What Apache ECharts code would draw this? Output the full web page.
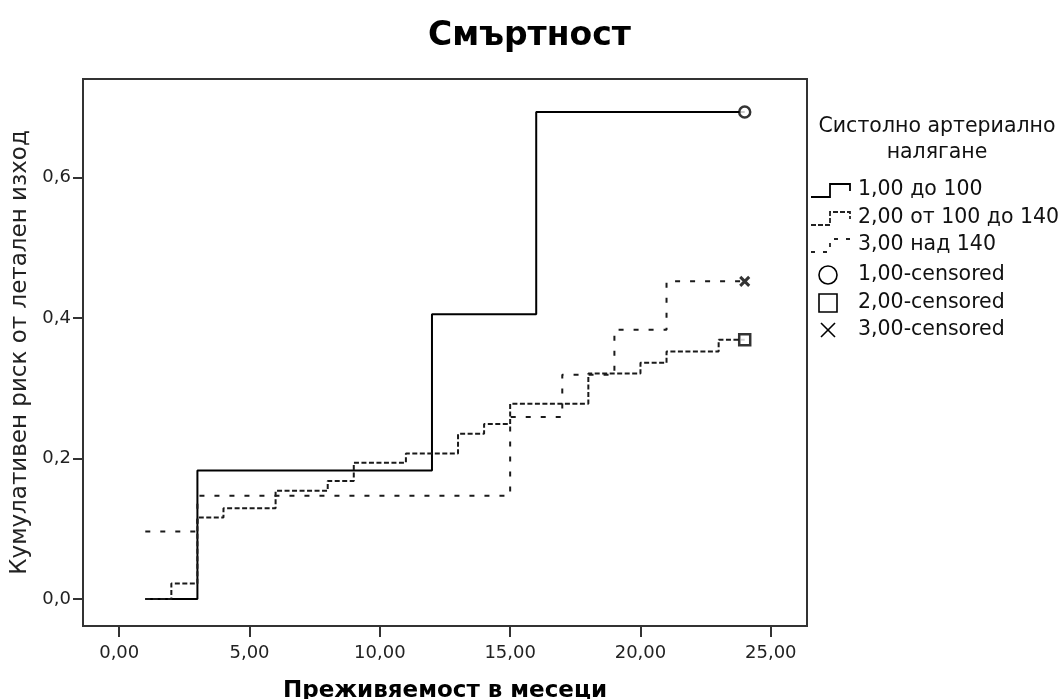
<!DOCTYPE html>
<html>
<head>
<meta charset="utf-8">
<script src="https://cdn.jsdelivr.net/npm/echarts@6/dist/echarts.min.js"></script>
<style>html,body{margin:0;padding:0;background:#fff;}#c{width:1064px;height:699px;}</style>
</head>
<body>
<div id="c"></div>
<script>
// ---- data ----
var titleText = 'Смъртност';
var xAxisName = 'Преживяемост в месеци';
var yAxisName = 'Кумулативен риск от летален изход';
var legendTitle = ['Систолно артериално', 'налягане'];
var groupNames = ['1,00 до 100', '2,00 от 100 до 140', '3,00 над 140'];
var censoredNames = ['1,00-censored', '2,00-censored', '3,00-censored'];

var xTicks = [0, 5, 10, 15, 20, 25];
var yTicks = [0, 0.2, 0.4, 0.6];

// step points: [month, cumulative risk]
var g1X = [1, 3, 12, 16, 24];
var g1Y = [0, 0.183, 0.405, 0.693, 0.693];

var g2X = [1, 2, 3, 4, 6, 8, 9, 11, 13, 14, 15, 18, 20, 21, 23, 24];
var g2Y = [0, 0.022, 0.116, 0.129, 0.154, 0.168, 0.194, 0.207, 0.235, 0.249, 0.278, 0.321, 0.336, 0.352, 0.369, 0.369];

var g3X = [1, 3, 15, 17, 19, 21, 24];
var g3Y = [0.096, 0.147, 0.259, 0.319, 0.383, 0.452, 0.452];

var censX = [24, 24, 24];
var censY = [0.693, 0.369, 0.452];

function zip(xs, ys) { return xs.map(function (x, i) { return [x, ys[i]]; }); }
function fmt(v, d) { return v.toFixed(d).replace('.', ','); }

var FONT = 'DejaVu Sans';
var INK = '#111';
var crossPath = 'path://M0,0 L10,10 M10,0 L0,10';

// ---- legend (graphic) ----
var lx = 811, tx = 858;
var rowY = [190, 218, 245, 275, 303, 330];
function stepIcon(y, dash, color) {
  return {
    type: 'polyline', silent: true,
    shape: { points: [[lx, y + 7], [lx + 19, y + 7], [lx + 19, y - 6], [lx + 39, y - 6], [lx + 39, y + 1]] },
    style: { stroke: color, fill: null, lineWidth: 1.8, lineDash: dash }
  };
}
function legText(x, y, t, align) {
  return { type: 'text', silent: true, x: x, y: y,
    style: { text: t, font: '20.5px "' + FONT + '"', fill: INK, align: align || 'left', verticalAlign: 'middle' } };
}
var legendGraphics = [
  legText(937, 127, legendTitle[0], 'center'),
  legText(937, 153, legendTitle[1], 'center'),
  stepIcon(rowY[0], null, '#000'),
  stepIcon(rowY[1], [5, 2], '#222'),
  stepIcon(rowY[2], [4, 8], '#222'),
  legText(tx, rowY[0], groupNames[0]),
  legText(tx, rowY[1], groupNames[1]),
  legText(tx, rowY[2], groupNames[2]),
  { type: 'circle', silent: true, shape: { cx: 828, cy: rowY[3], r: 9 }, style: { fill: null, stroke: '#000', lineWidth: 1.6 } },
  { type: 'rect', silent: true, shape: { x: 819, y: rowY[4] - 9, width: 18, height: 18 }, style: { fill: null, stroke: '#000', lineWidth: 1.6 } },
  { type: 'polyline', silent: true, shape: { points: [[821, rowY[5] - 7], [835, rowY[5] + 7]] }, style: { stroke: '#000', lineWidth: 1.6 } },
  { type: 'polyline', silent: true, shape: { points: [[835, rowY[5] - 7], [821, rowY[5] + 7]] }, style: { stroke: '#000', lineWidth: 1.6 } },
  legText(tx, rowY[3], censoredNames[0]),
  legText(tx, rowY[4], censoredNames[1]),
  legText(tx, rowY[5], censoredNames[2])
];

var chart = echarts.init(document.getElementById('c'), null, { renderer: 'canvas' });
chart.setOption({
  animation: false,
  backgroundColor: '#fff',
  textStyle: { fontFamily: FONT },
  title: {
    text: titleText, left: 423, top: 15,
    textStyle: { fontFamily: FONT, fontWeight: 'bold', fontSize: 33, color: '#000' }
  },
  grid: { left: 83, right: 257, top: 79, bottom: 73, outerBoundsMode: 'none', containLabel: false,
    show: true, borderColor: '#333', borderWidth: 2, backgroundColor: '#fff' },
  xAxis: {
    type: 'value', min: -1.39, max: 26.39,
    name: xAxisName, nameLocation: 'middle', nameGap: 54,
    nameTextStyle: { fontFamily: FONT, fontWeight: 'bold', fontSize: 23, color: '#000' },
    axisLine: { show: true, onZero: false, lineStyle: { color: '#333', width: 2 } },
    axisTick: { show: true, length: 11, customValues: xTicks, lineStyle: { color: '#333', width: 2 } },
    axisLabel: { customValues: xTicks, margin: 18, fontSize: 18, color: '#222', fontFamily: FONT,
      formatter: function (v) { return fmt(v, 2); } },
    splitLine: { show: false }
  },
  yAxis: {
    type: 'value', min: -0.0384, max: 0.7399,
    name: yAxisName, nameLocation: 'middle', nameGap: 47, nameRotate: 90,
    nameTextStyle: { fontFamily: FONT, fontSize: 23, color: '#222' },
    axisLine: { show: true, onZero: false, lineStyle: { color: '#333', width: 2 } },
    axisTick: { show: true, length: 10, customValues: yTicks, lineStyle: { color: '#333', width: 2 } },
    axisLabel: { customValues: yTicks, margin: 12, fontSize: 18, color: '#222', fontFamily: FONT,
      formatter: function (v) { return fmt(v, 1); } },
    splitLine: { show: false }
  },
  series: [
    { name: groupNames[0], type: 'line', step: 'end', showSymbol: false, data: zip(g1X, g1Y),
      lineStyle: { color: '#000', width: 2 }, z: 3 },
    { name: groupNames[1], type: 'line', step: 'end', showSymbol: false, data: zip(g2X, g2Y),
      lineStyle: { color: '#1a1a1a', width: 2, type: [5, 2.5] }, z: 3 },
    { name: groupNames[2], type: 'line', step: 'end', showSymbol: false, data: zip(g3X, g3Y),
      lineStyle: { color: '#1a1a1a', width: 2, type: [5, 10] }, z: 3 },
    { name: censoredNames[0], type: 'scatter', symbol: 'circle', symbolSize: 11, data: [[censX[0], censY[0]]],
      itemStyle: { color: '#fff', borderColor: '#000', borderWidth: 2.5 }, z: 4 },
    { name: censoredNames[1], type: 'scatter', symbol: 'rect', symbolSize: 11, data: [[censX[1], censY[1]]],
      itemStyle: { color: '#fff', borderColor: '#000', borderWidth: 2.5 }, z: 4 },
    { name: censoredNames[2], type: 'scatter', symbol: crossPath, symbolSize: 9, data: [[censX[2], censY[2]]],
      itemStyle: { color: 'none', borderColor: '#000', borderWidth: 3 }, z: 4 }
  ],
  graphic: legendGraphics
});
</script>
</body>
</html>
